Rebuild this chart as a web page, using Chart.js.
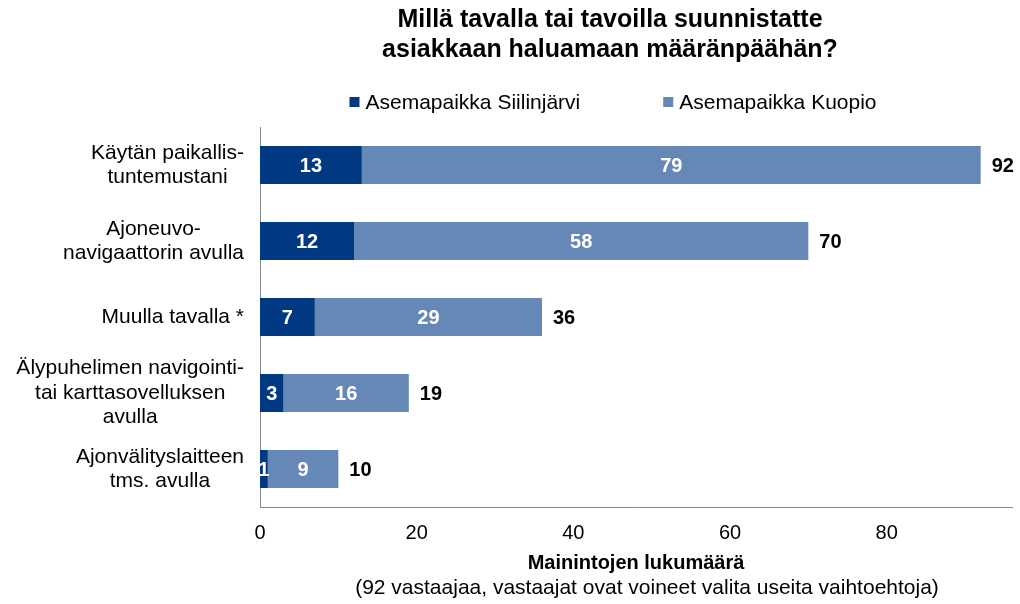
<!DOCTYPE html>
<html>
<head>
<meta charset="utf-8">
<script src="https://cdn.jsdelivr.net/npm/chart.js@4.4.0/dist/chart.umd.min.js"></script>
<style>
  html, body { margin: 0; padding: 0; background: #fff; }
  #wrap { width: 1020px; height: 604px; }
</style>
</head>
<body>
<div id="wrap"><canvas id="c"></canvas></div>
<script>
// data
const categories = [
    ["Käytän paikallis-", "tuntemustani"],
    ["Ajoneuvo-", "navigaattorin avulla"],
    ["Muulla tavalla *"],
    ["Älypuhelimen navigointi-", "tai karttasovelluksen", "avulla"],
    ["Ajonvälityslaitteen", "tms. avulla"]
];
const seriesNames = ["Asemapaikka Siilinjärvi", "Asemapaikka Kuopio"];
const siilinjarvi = [13, 12, 7, 3, 1];
const kuopio = [79, 58, 29, 16, 9];
const xTicks = [0, 20, 40, 60, 80];
const note = "(92 vastaajaa, vastaajat ovat voineet valita useita vaihtoehtoja)";

const DARK = '#003882';
const LIGHT = '#6688b6';
const FONT = '"Liberation Sans", Arial, sans-serif';

// y labels: each block centred on itself, right edge near the axis
const yLabelPlugin = {
    id: 'yLabels',
    afterDraw(chart) {
        const ctx = chart.ctx;
        const y = chart.scales.y;
        ctx.save();
        ctx.font = '21px ' + FONT;
        ctx.fillStyle = '#000';
        ctx.textAlign = 'center';
        ctx.textBaseline = 'middle';
        const lh = 24.5;
        categories.forEach((lines, i) => {
            const cy = y.getPixelForValue(i);
            const w = Math.max(...lines.map(l => ctx.measureText(l).width));
            const cx = chart.chartArea.left - 16 - w / 2;
            lines.forEach((l, k) => {
                ctx.fillText(l, cx, cy + (k - (lines.length - 1) / 2) * lh);
            });
        });
        // note under the axis title
        const area = chart.chartArea;
        ctx.fillText(note, (area.left + area.right) / 2 + 11, 588);
        ctx.restore();
    }
};

// values inside segments + totals
const valuePlugin = {
    id: 'values',
    afterDatasetsDraw(chart) {
        const ctx = chart.ctx;
        ctx.save();
        ctx.font = 'bold 20px ' + FONT;
        ctx.textBaseline = 'middle';
        ctx.textAlign = 'center';
        ctx.fillStyle = '#fff';
        chart.data.datasets.forEach((ds, d) => {
            chart.getDatasetMeta(d).data.forEach((bar, i) => {
                ctx.fillText(ds.data[i], (bar.x + bar.base) / 2, bar.y + 1);
            });
        });
        const last = chart.getDatasetMeta(chart.data.datasets.length - 1).data;
        ctx.textAlign = 'left';
        ctx.fillStyle = '#000';
        last.forEach((bar, i) => {
            ctx.fillText(siilinjarvi[i] + kuopio[i], bar.x + 11, bar.y + 1);
        });
        ctx.restore();
    }
};

// legend drawn by hand to get the wide spacing
const legendPlugin = {
    id: 'ownLegend',
    afterDraw(chart) {
        const ctx = chart.ctx;
        ctx.save();
        ctx.font = '21px ' + FONT;
        ctx.textBaseline = 'middle';
        ctx.textAlign = 'left';
        const colors = [DARK, LIGHT];
        const box = 10, gapText = 6, gapItem = 83;
        const widths = seriesNames.map(n => box + gapText + ctx.measureText(n).width);
        const total = widths.reduce((a, b) => a + b, 0) + gapItem;
        let x = 613 - total / 2;
        const cy = 102;
        seriesNames.forEach((n, i) => {
            ctx.fillStyle = colors[i];
            ctx.fillRect(x, cy - 5, box, box);
            ctx.fillStyle = '#000';
            ctx.fillText(n, x + box + gapText, cy + 1);
            x += widths[i] + gapItem;
        });
        ctx.restore();
    }
};

new Chart(document.getElementById('c'), {
    type: 'bar',
    data: {
        labels: categories,
        datasets: [
            { label: seriesNames[0], data: siilinjarvi, backgroundColor: DARK },
            { label: seriesNames[1], data: kuopio, backgroundColor: LIGHT }
        ]
    },
    options: {
        indexAxis: 'y',
        responsive: true,
        maintainAspectRatio: false,
        animation: false,
        datasets: { bar: { barPercentage: 0.5, categoryPercentage: 1.0 } },
        layout: { padding: { left: 208, right: 8, top: 5, bottom: 29 } },
        scales: {
            x: {
                stacked: true,
                min: 0,
                max: 96,
                afterBuildTicks: (s) => { s.ticks = xTicks.map(v => ({ value: v })); },
                grid: { display: false, drawTicks: false },
                border: { display: true, color: '#898989', width: 1 },
                ticks: { color: '#000', font: { family: FONT, size: 20 }, padding: 14, maxRotation: 0 },
                title: {
                    display: true,
                    text: 'Mainintojen lukumäärä',
                    color: '#000',
                    font: { family: FONT, size: 20, weight: 'bold' },
                    padding: { top: -8, bottom: 0 }
                }
            },
            y: {
                stacked: true,
                grid: { display: false, drawTicks: false },
                border: { display: true, color: '#898989', width: 1 },
                ticks: { display: false },
                afterFit: (s) => { s.width = 52; }
            }
        },
        plugins: {
            legend: { display: false },
            tooltip: { enabled: false },
            title: {
                display: true,
                text: ['Millä tavalla tai tavoilla suunnistatte', 'asiakkaan haluamaan määränpäähän?'],
                color: '#000',
                font: { family: FONT, size: 25, weight: 'bold', lineHeight: 1.2 },
                padding: { top: 0, bottom: 62 }
            }
        }
    },
    plugins: [yLabelPlugin, valuePlugin, legendPlugin]
});
</script>
</body>
</html>
